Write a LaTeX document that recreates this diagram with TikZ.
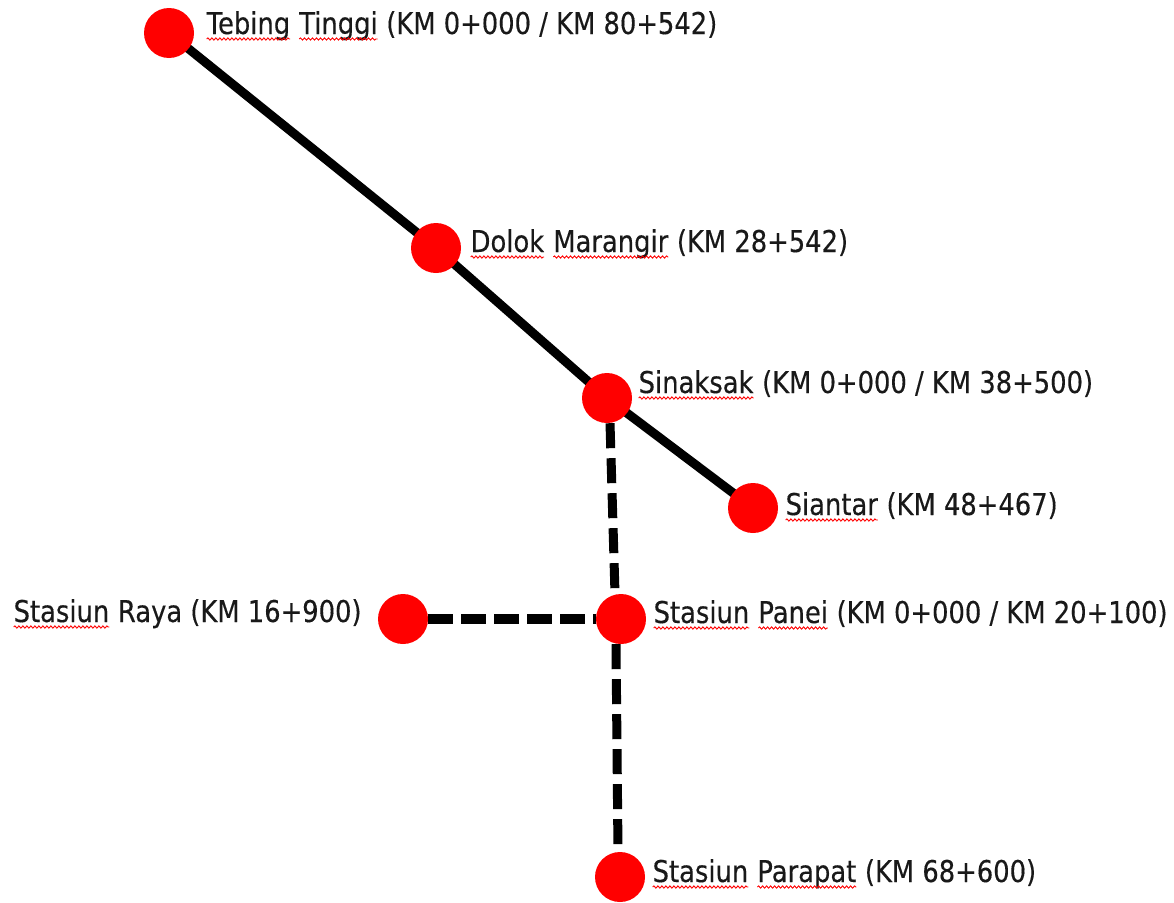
\documentclass[tikz,border=0pt]{standalone}
\usepackage{fontspec}
\setmainfont{DejaVu Sans}[FakeStretch=0.86,FakeBold=0.3]
\usetikzlibrary{backgrounds,decorations.pathmorphing}
\tikzset{
  spellwave/.style={red,line width=0.9pt,decorate,decoration={snake,amplitude=1.1pt,segment length=4pt}},
  spellword/.style={inner sep=0pt,outer sep=0pt}}
\newcommand\spl[1]{\tikz[baseline=(w.base)]{\node[spellword](w){#1};\draw[spellwave]([yshift=-5pt]w.base west) -- ([yshift=-5pt]w.base east);}}
\begin{document}
\begin{tikzpicture}[x=1pt,y=-1pt,
  stn/.style={circle,fill=red,minimum size=50pt,inner sep=0pt},
  lbl/.style={anchor=base west,inner sep=0pt,font=\fontsize{30}{36}\selectfont,text=black!90},
  mainline/.style={line width=9pt,black,line join=round},
  branch/.style={line width=9pt,black,dash pattern=on 25pt off 10pt},
  branchh/.style={line width=10pt,black,dash pattern=on 25pt off 8pt}]
\useasboundingbox (0,0) rectangle (1174,902);
\node[stn] (teb) at (169,33) {};
\node[stn] (dol) at (436,248) {};
\node[stn] (sin) at (607,398) {};
\node[stn] (sia) at (753,508) {};
\node[stn] (ray) at (403,619) {};
\node[stn] (pan) at (621,619) {};
\node[stn] (par) at (620,877) {};
\begin{scope}[on background layer]
\draw[mainline] (teb.center) -- (dol.center) -- (sin.center) -- (sia.center);
\draw[branch] ([xshift=3pt]sin.south) -- ([xshift=-6pt]pan.north);
\draw[branch] ([xshift=-5pt]pan.south) -- ([xshift=-2pt]par.north);
\draw[branchh] (ray.east) -- (pan.west);
\end{scope}
\node[lbl] (tebl) at (206,34) {\spl{Tebing} \spl{Tinggi} (KM 0+000 / KM 80+542)};
\node[lbl] (doll) at (470,252) {\spl{Dolok} \spl{Marangir} (KM 28+542)};
\node[lbl] (sinl) at (638,393) {\spl{Sinaksak} (KM 0+000 / KM 38+500)};
\node[lbl] (sial) at (785,515) {\spl{Siantar} (KM 48+467)};
\node[lbl] (rayl) at (13,622) {\spl{Stasiun} Raya (KM 16+900)};
\node[lbl] (panl) at (653,623) {\spl{Stasiun} \spl{Panei} (KM 0+000 / KM 20+100)};
\node[lbl] (parl) at (652,882) {\spl{Stasiun} \spl{Parapat} (KM 68+600)};
\end{tikzpicture}
\end{document}
